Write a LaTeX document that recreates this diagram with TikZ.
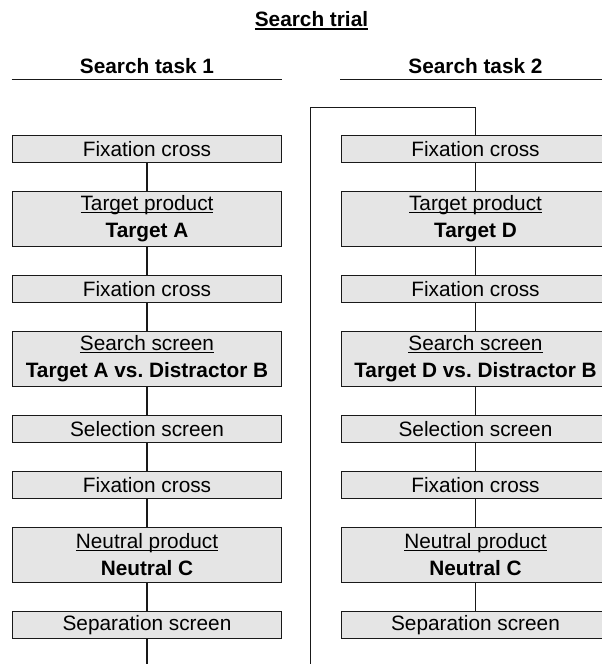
\documentclass[tikz,border=0pt]{standalone}
\usepackage{fontspec}
\setmainfont{Liberation Sans}
\usepackage{tikz}
\usetikzlibrary{positioning}
\definecolor{boxgray}{RGB}{229,229,229}
\definecolor{inkblack}{RGB}{25,25,25}
\newcommand{\ulword}[1]{{\setbox0\hbox{#1}\rlap{\vrule height -0.9pt depth 1.7pt width \wd0}\box0}}
\newcommand{\ultitle}[1]{{\setbox0\hbox{#1}\rlap{\vrule height -1.3pt depth 2.5pt width \wd0}\box0}}
\frenchspacing

\begin{document}
\begin{tikzpicture}[
  x=0.75pt, y=-0.75pt,
  node distance=20.75pt,
  stepbox/.style={rectangle, draw=inkblack, fill=boxgray, line width=1pt,
                  minimum width=201.5pt, minimum height=20.25pt, inner sep=0pt,
                  align=center, font=\fontsize{15.6pt}{20.25pt}\selectfont},
  twobox/.style={stepbox, minimum height=41.25pt},
  head/.style={inner sep=0pt, minimum width=202.5pt, text depth=4.2pt,
               font=\fontsize{15.6pt}{18pt}\selectfont\bfseries},
  link/.style={inkblack, line width=1pt}
]
\useasboundingbox (0,0) rectangle (601,664);

\node[head, anchor=base] (T) at (311.5,26.7) {\ultitle{Search trial}};
\node[head, anchor=base] (H1) at (147,73.7) {Search task 1};
\node[head, anchor=base] (H2) at (475.5,73.7) {Search task 2};
\draw[link] (H1.south west) -- (H1.south east);
\draw[link] (H2.south west) -- (H2.south east);

% search task 1
\node[stepbox] (L1) at (147,149) {Fixation cross};
\node[twobox, below=of L1] (L2) {\ulword{Target product}\\ \textbf{Target A}};
\node[stepbox, below=of L2] (L3) {Fixation cross};
\node[twobox, below=of L3] (L4) {\ulword{Search screen}\\ \textbf{Target A vs. Distractor B}};
\node[stepbox, below=of L4] (L5) {Selection screen};
\node[stepbox, below=of L5] (L6) {Fixation cross};
\node[twobox, below=of L6] (L7) {\ulword{Neutral product}\\ \textbf{Neutral C}};
\node[stepbox, below=of L7] (L8) {Separation screen};

% search task 2
\node[stepbox] (R1) at (475.5,149) {Fixation cross};
\node[twobox, below=of R1] (R2) {\ulword{Target product}\\ \textbf{Target D}};
\node[stepbox, below=of R2] (R3) {Fixation cross};
\node[twobox, below=of R3] (R4) {\ulword{Search screen}\\ \textbf{Target D vs. Distractor B}};
\node[stepbox, below=of R4] (R5) {Selection screen};
\node[stepbox, below=of R5] (R6) {Fixation cross};
\node[twobox, below=of R6] (R7) {\ulword{Neutral product}\\ \textbf{Neutral C}};
\node[stepbox, below=of R7] (R8) {Separation screen};

\coordinate (Lend) at (147,664);
\coordinate (Rturn) at (310.7,107.3);
\coordinate (Rend) at (310.7,664);

\draw[link] (L1) -- (L2);
\draw[link] (L2) -- (L3);
\draw[link] (L3) -- (L4);
\draw[link] (L4) -- (L5);
\draw[link] (L5) -- (L6);
\draw[link] (L6) -- (L7);
\draw[link] (L7) -- (L8);
\draw[link] (L8) -- (Lend);

\draw[link] (R1) |- (Rturn) -- (Rend);
\draw[link] (R1) -- (R2);
\draw[link] (R2) -- (R3);
\draw[link] (R3) -- (R4);
\draw[link] (R4) -- (R5);
\draw[link] (R5) -- (R6);
\draw[link] (R6) -- (R7);
\draw[link] (R7) -- (R8);
\end{tikzpicture}
\end{document}
